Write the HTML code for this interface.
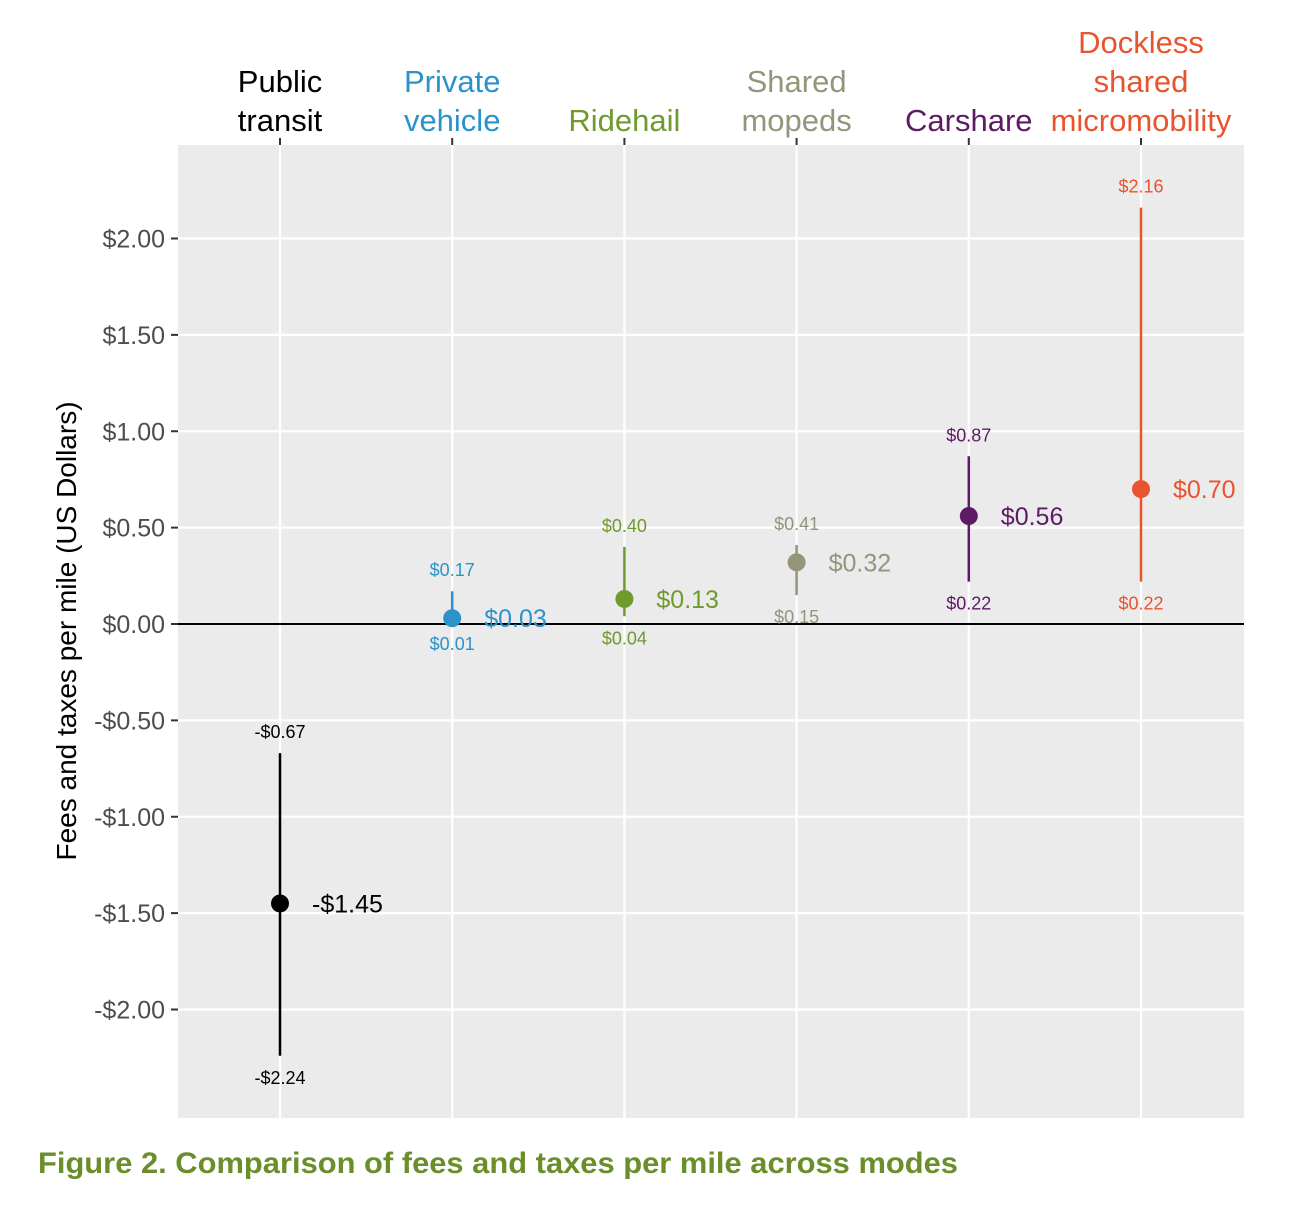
<!DOCTYPE html>
<html><head><meta charset="utf-8"><style>
body{margin:0;background:#fff;}
svg text{font-family:"Liberation Sans Narrow","Liberation Sans",sans-serif;}
</style></head><body>
<svg width="1292" height="1214" viewBox="0 0 1292 1214">
<g id="root"></g>
</svg>
<script>
const categories=[["Public","transit"],["Private","vehicle"],["Ridehail"],["Shared","mopeds"],["Carshare"],["Dockless","shared","micromobility"]];
const colors=["#000000","#2b93c9","#6f9a2e","#94957a","#5e1a64","#e8542e"];
const means=[-1.45,0.03,0.13,0.32,0.56,0.70];
const lows=[-2.24,0.01,0.04,0.15,0.22,0.22];
const highs=[-0.67,0.17,0.40,0.41,0.87,2.16];
const yTicks=[2,1.5,1,0.5,0,-0.5,-1,-1.5,-2];
const yTickLabels=["$2.00","$1.50","$1.00","$0.50","$0.00","-$0.50","-$1.00","-$1.50","-$2.00"];
const px0=178,px1=1244,py0=145,py1=1118;
const y=v=>624-v*192.75;
const x=i=>280+i*172.2;
const fmt=v=>(v<0?"-$":"$")+Math.abs(v).toFixed(2);
const NS="http://www.w3.org/2000/svg";
const root=document.getElementById('root');
function mk(tag,attrs,txt){const e=document.createElementNS(NS,tag);for(const k in attrs)e.setAttribute(k,attrs[k]);if(txt!==undefined)e.textContent=txt;root.appendChild(e);return e;}
let e=mk('rect',{x:px0,y:py0,width:px1-px0,height:py1-py0,fill:'#ebebeb'});


yTicks.forEach((t,i)=>{
 e=mk('line',{x1:px0,x2:px1,y1:y(t),y2:y(t),stroke:'#fff','stroke-width':2.2});
 
 
 e=mk('line',{x1:171,x2:px0,y1:y(t),y2:y(t),stroke:'#333','stroke-width':2});
 
 
 e=mk('text',{x:165,y:y(t)+9,'text-anchor':'end','font-size':25,fill:'#4d4d4d'},yTickLabels[i]);
 
 
});
categories.forEach((c,i)=>{
 e=mk('line',{x1:x(i),x2:x(i),y1:py0,y2:py1,stroke:'#fff','stroke-width':2.2});
 
 
 e=mk('line',{x1:x(i),x2:x(i),y1:138,y2:py0,stroke:'#333','stroke-width':2});
 
 
 c.forEach((line,j)=>{
  e=mk('text',{x:x(i),y:131-(c.length-1-j)*39,'text-anchor':'middle','font-size':31,fill:colors[i]},line);
  
  
 });
});
e=mk('line',{x1:px0,x2:px1,y1:y(0),y2:y(0),stroke:'#000','stroke-width':2});


means.forEach((m,i)=>{
 const cx=x(i),col=colors[i];
 e=mk('line',{x1:cx,x2:cx,y1:y(lows[i]),y2:y(highs[i]),stroke:col,'stroke-width':2.5});
 
 
 e=mk('circle',{cx:cx,cy:y(m),r:9,fill:col});
 
 
 e=mk('text',{x:cx+32,y:y(m)+9,'font-size':25,fill:col},fmt(m));
 
 
 e=mk('text',{x:cx,y:y(highs[i])-15,'text-anchor':'middle','font-size':18,fill:col},fmt(highs[i]));
 
 
 e=mk('text',{x:cx,y:y(lows[i])+28,'text-anchor':'middle','font-size':18,fill:col},fmt(lows[i]));
 
 
});
e=mk('text',{x:0,y:0,transform:'translate(76,631) rotate(-90)','text-anchor':'middle','font-size':28,fill:'#000'},'Fees and taxes per mile (US Dollars)');


e=mk('text',{x:38,y:1173,'font-size':30,'font-weight':'bold',fill:'#6a8e2a',textLength:920,lengthAdjust:'spacingAndGlyphs'},'Figure 2. Comparison of fees and taxes per mile across modes');


</script>
</body></html>
